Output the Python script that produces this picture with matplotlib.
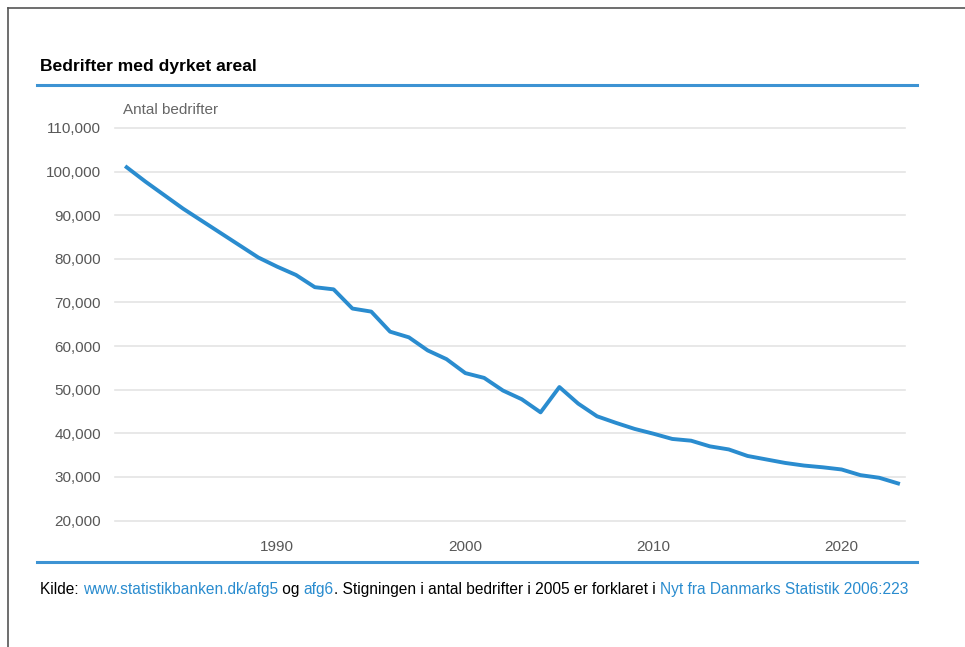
import matplotlib
matplotlib.use('Agg')
import matplotlib.pyplot as plt
from matplotlib.lines import Line2D

years = list(range(1982, 2024))
bedrifter = [101000, 97700, 94600, 91500, 88700, 85900, 83100, 80300, 78200, 76300,
             73500, 73000, 68600, 67900, 63300, 62000, 59000, 57000, 53800, 52700,
             49800, 47800, 44800, 50600, 46800, 43900, 42400, 41000, 39900, 38700,
             38300, 37000, 36300, 34800, 34000, 33200, 32600, 32200, 31700, 30400,
             29800, 28500]
y_ticks = [20000, 30000, 40000, 50000, 60000, 70000, 80000, 90000, 100000, 110000]
x_ticks = [1990, 2000, 2010, 2020]

blue = '#2a8ccf'
plt.rcParams['font.family'] = ['Liberation Sans', 'DejaVu Sans']

fig = plt.figure(figsize=(9.65, 6.47), dpi=100)
ax = fig.add_axes([115/965, 1 - 520.5/647, 790/965, 392.5/647])

ax.plot(years, bedrifter, color=blue, lw=2.8, solid_joinstyle='round', zorder=3)
ax.set_xlim(1981.38, 2023.37)
ax.set_ylim(20000, 110000)
ax.set_yticks(y_ticks)
ax.set_yticklabels([f'{v:,}' for v in y_ticks])
ax.set_xticks(x_ticks)
ax.tick_params(length=0, labelsize=11, labelcolor='#585858')
ax.tick_params(axis='y', pad=10)
ax.tick_params(axis='x', pad=14)
ax.grid(axis='y', color='#e4e4e4', lw=1.2, clip_on=False)
for s in ax.spines.values():
    s.set_visible(False)

ax.text(0.01, 1.047, 'Antal bedrifter', transform=ax.transAxes, fontsize=11,
        color='#666666', va='center')

# titel og blå linjer
fig.text(40/965, 1 - 66/647, 'Bedrifter med dyrket areal', fontsize=12.6,
         fontweight='bold', va='center')
fig.add_artist(Line2D([37/965, 917/965], [1 - 85/647] * 2, color='#3d93d3', lw=2.2))
fig.add_artist(Line2D([37/965, 917/965], [1 - 562/647] * 2, color='#3d93d3', lw=2.2))

# ramme
fig.add_artist(Line2D([8/965, 1], [1 - 8/647] * 2, color='#555555', lw=1.2))
fig.add_artist(Line2D([8/965] * 2, [0, 1 - 8/647], color='#555555', lw=1.2))

# kilde
parts = [('Kilde: ', 'black'), ('www.statistikbanken.dk/afg5', blue), (' og ', 'black'),
         ('afg6', blue), ('. Stigningen i antal bedrifter i 2005 er forklaret i ', 'black'),
         ('Nyt fra Danmarks Statistik 2006:223', blue)]
renderer = fig.canvas.get_renderer()
x = 40
for txt, col in parts:
    t = fig.text(x/965, 1 - 594/647, txt, fontsize=11.2, color=col, va='baseline')
    bb = t.get_window_extent(renderer)
    x += bb.width

fig.savefig('out.png', dpi=100)
